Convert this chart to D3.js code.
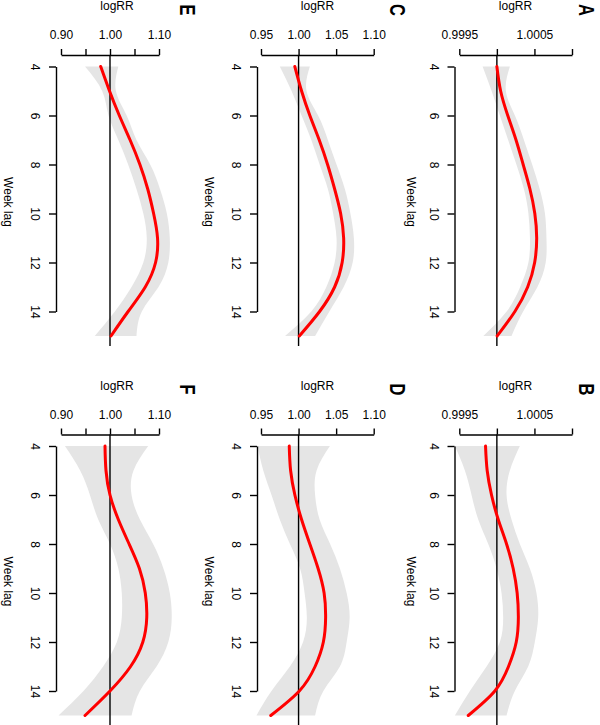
<!DOCTYPE html>
<html>
<head>
<meta charset="utf-8">
<script src="https://cdn.jsdelivr.net/npm/d3@7"></script>
<style>
  html, body { margin: 0; padding: 0; background: #fff; }
  svg { display: block; }
  text { font-family: "Liberation Sans", Arial, Helvetica, sans-serif; fill: #000; }
</style>
</head>
<body>
<script>
// ---------- data ----------
const weeks = [4, 5, 6, 7, 8, 9, 10, 11, 12, 13, 14, 15];
const weekTicks = [4, 6, 8, 10, 12, 14];

const ticksEF = [0.90, 0.95, 1.00, 1.05, 1.10];
const labelsEF = ["0.90", "", "1.00", "", "1.10"];
const ticksCD = [0.95, 1.00, 1.05, 1.10];
const labelsCD = ["0.95", "1.00", "1.05", "1.10"];
const ticksAB = [0.9995, 1.0000, 1.0005, 1.0010];
const labelsAB = ["0.9995", "", "1.0005", ""];

const fitA = [1.0000, 1.00005, 1.000145, 1.000255, 1.00035, 1.00044, 1.000505, 1.00053, 1.000503, 1.00041, 1.00024, 1.000004];
const loA  = [0.99981, 0.99993, 1.00004, 1.00015, 1.00026, 1.00036, 1.00042, 1.00044, 1.00042, 1.00031, 1.00013, 0.99982];
const hiA  = [1.000173, 1.00012, 1.00024, 1.00036, 1.00047, 1.00057, 1.00064, 1.00066, 1.00065, 1.00054, 1.00035, 1.000195];

const fitB = [0.999849, 0.999871, 0.999929, 1.000018, 1.000129, 1.000217, 1.00027, 1.000286, 1.000258, 1.000155, 0.999973, 0.999619];
const loB  = [0.999441, 0.999574, 0.999663, 0.999752, 0.999885, 0.999996, 1.000062, 1.000084, 1.00004, 0.999863, 0.999641, 0.999441];
const hiB  = [1.000306, 1.000173, 1.000129, 1.000195, 1.000306, 1.000439, 1.000527, 1.00055, 1.000505, 1.000417, 1.000239, 1.000129];

const fitC = [0.995, 1.004, 1.015, 1.0275, 1.0386, 1.048, 1.056, 1.060, 1.058, 1.048, 1.028, 1.001];
const loC  = [0.975, 0.9907, 1.004, 1.017, 1.028, 1.039, 1.046, 1.0505, 1.048, 1.037, 1.017, 0.982];
const hiC  = [1.015, 1.0106, 1.026, 1.039, 1.0505, 1.0616, 1.069, 1.0736, 1.072, 1.060, 1.041, 1.022];

const fitD = [0.9876, 0.9894, 0.9951, 1.004, 1.015, 1.026, 1.034, 1.036, 1.033, 1.022, 1.001, 0.963];
const loD  = [0.9455, 0.953, 0.964, 0.975, 0.9885, 1.002, 1.008, 1.011, 1.006, 0.9885, 0.964, 0.944];
const hiD  = [1.0417, 1.024, 1.022, 1.028, 1.042, 1.055, 1.064, 1.068, 1.064, 1.055, 1.033, 1.022];

const fitE = [0.981, 0.999, 1.019, 1.041, 1.061, 1.077, 1.089, 1.097, 1.093, 1.072, 1.037, 1.002];
const loE  = [0.949, 0.984, 0.997, 1.017, 1.037, 1.054, 1.068, 1.075, 1.068, 1.044, 1.010, 0.969];
const hiE  = [1.017, 1.012, 1.034, 1.054, 1.082, 1.102, 1.116, 1.122, 1.119, 1.099, 1.065, 1.054];

const fitF = [0.9898, 0.9918, 1.000, 1.017, 1.039, 1.060, 1.072, 1.075, 1.067, 1.042, 1.000, 0.949];
const loF  = [0.908, 0.939, 0.959, 0.976, 1.000, 1.017, 1.024, 1.024, 1.014, 0.986, 0.946, 0.895];
const hiF  = [1.078, 1.048, 1.044, 1.061, 1.088, 1.109, 1.122, 1.126, 1.119, 1.095, 1.061, 1.044];

// ---------- layout ----------
const W = 600, H = 725;
const cols = [
  { axisX: 56,    r0: 61,    r1: 159,   logCx: 117,   letterX: 188, weekX: 8,   ticks: ticksEF, labels: labelsEF },
  { axisX: 257,   r0: 261,   r1: 373.7, logCx: 317.5, letterX: 398, weekX: 209, ticks: ticksCD, labels: labelsCD },
  { axisX: 454.5, r0: 459.3, r1: 572,   logCx: 515.5, letterX: 587, weekX: 411, ticks: ticksAB, labels: labelsAB }
];
const rowOffset = 379.5;

const panels = [
  { letter: "A", col: 2, row: 0, fit: fitA, lo: loA, hi: hiA },
  { letter: "B", col: 2, row: 1, fit: fitB, lo: loB, hi: hiB },
  { letter: "C", col: 1, row: 0, fit: fitC, lo: loC, hi: hiC },
  { letter: "D", col: 1, row: 1, fit: fitD, lo: loD, hi: hiD },
  { letter: "E", col: 0, row: 0, fit: fitE, lo: loE, hi: hiE },
  { letter: "F", col: 0, row: 1, fit: fitF, lo: loF, hi: hiF }
];

const svg = d3.select("body").append("svg").attr("width", W).attr("height", H);

panels.forEach(p => {
  const c = cols[p.col];
  const oy = p.row * rowOffset;
  const axisY = 55 + oy;
  const plotBottom = 346 + oy;

  const x = d3.scaleLinear().domain([c.ticks[0], c.ticks[c.ticks.length - 1]]).range([c.r0, c.r1]);
  const y = d3.scaleLinear().domain([4, 14]).range([66.5 + oy, 311.5 + oy]);

  const g = svg.append("g");
  const rows = weeks.map((w, i) => ({ w, fit: p.fit[i], lo: p.lo[i], hi: p.hi[i] }));

  // confidence band (each edge drawn as a smooth spline)
  const loLine = d3.line().y(d => y(d.w)).x(d => x(d.lo)).curve(d3.curveNatural);
  const hiLine = d3.line().y(d => y(d.w)).x(d => x(d.hi)).curve(d3.curveNatural);
  const revHi = hiLine(rows.slice().reverse());
  g.append("path")
    .attr("d", loLine(rows) + "L" + revHi.slice(1) + "Z")
    .attr("fill", "#e5e5e5").attr("stroke", "none");

  // reference line at RR = 1
  g.append("line")
    .attr("x1", x(1)).attr("x2", x(1))
    .attr("y1", axisY).attr("y2", plotBottom)
    .attr("stroke", "#000").attr("stroke-width", 1.4);

  // fitted curve
  const line = d3.line()
    .y(d => y(d.w))
    .x(d => x(d.fit))
    .curve(d3.curveNatural);
  g.append("path").datum(rows).attr("d", line)
    .attr("fill", "none").attr("stroke", "#ff0000").attr("stroke-width", 3)
    .attr("stroke-linecap", "round").attr("stroke-linejoin", "round");

  // top axis
  const xAxis = d3.axisTop(x).tickValues(c.ticks).tickSize(6).tickSizeOuter(0)
    .tickFormat((d, i) => c.labels[i]);
  const ga = svg.append("g").attr("transform", `translate(0,${axisY})`).call(xAxis);
  ga.selectAll("path, line").attr("stroke", "#000").attr("stroke-width", 1.4);
  ga.selectAll("text").attr("y", -16).attr("dy", null)
    .style("font-size", "12px").style("font-family", "'Liberation Sans', Arial, sans-serif");

  // left axis
  const yAxis = d3.axisLeft(y).tickValues(weekTicks).tickSize(7).tickSizeOuter(0);
  const gy = svg.append("g").attr("transform", `translate(${c.axisX},0)`).call(yAxis);
  gy.selectAll("path, line").attr("stroke", "#000").attr("stroke-width", 1.4);
  gy.selectAll("text")
    .attr("x", null).attr("dy", null)
    .attr("text-anchor", "middle").attr("dominant-baseline", "central")
    .attr("transform", "translate(-21,0) rotate(90)")
    .style("font-size", "12px").style("font-family", "'Liberation Sans', Arial, sans-serif");

  // axis titles
  svg.append("text").attr("x", c.logCx).attr("y", 10 + oy)
    .attr("text-anchor", "middle").style("font-size", "12px").text("logRR");
  svg.append("text")
    .attr("transform", `translate(${c.weekX},${202 + oy}) rotate(90)`)
    .attr("text-anchor", "middle").attr("dominant-baseline", "central")
    .style("font-size", "12px").text("Week lag");

  // panel letter
  svg.append("text")
    .attr("transform", `translate(${c.letterX},${10 + oy}) rotate(90) scale(0.75,1)`)
    .attr("text-anchor", "middle").attr("dominant-baseline", "central")
    .style("font-size", "22px").style("font-weight", "bold").text(p.letter);
});
</script>
</body>
</html>
